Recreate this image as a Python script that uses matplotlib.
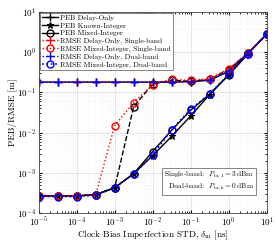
import numpy as np
import matplotlib
matplotlib.use("Agg")
import matplotlib.pyplot as plt

plt.rcParams['font.family'] = 'serif'
plt.rcParams['font.serif'] = ['cmr10', 'DejaVu Serif']
plt.rcParams['mathtext.fontset'] = 'cm'
plt.rcParams['axes.formatter.use_mathtext'] = True

# clock bias STD [ns]
delta = [1e-5, 10**-4.5, 1e-4, 10**-3.5, 1e-3, 10**-2.5, 1e-2, 10**-1.5, 1e-1, 10**-0.5, 1e0, 10**0.5, 1e1]

peb_delay = [0.18, 0.18, 0.18, 0.18, 0.18, 0.18, 0.18, 0.18, 0.185, 0.20, 0.33, 0.92, 2.8]
peb_known = [2.7e-4, 2.7e-4, 2.7e-4, 2.9e-4, 4.3e-4, 9.6e-4, 2.7e-3, 8.1e-3, 0.026, 0.088, 0.27, 0.88, 2.75]
peb_mixed_single = [2.7e-4, 2.7e-4, 2.7e-4, 2.9e-4, 4.3e-4, 0.044, 0.16, 0.20, 0.19, 0.21, 0.37, 0.93, 2.8]
peb_mixed_dual = [2.7e-4, 2.7e-4, 2.7e-4, 2.9e-4, 4.3e-4, 9.6e-4, 3.4e-3, 0.0115, 0.036, 0.09, 0.27, 0.9, 2.8]
rmse_delay_single = [0.18, 0.18, 0.18, 0.18, 0.18, 0.18, 0.18, 0.18, 0.185, 0.21, 0.36, 0.93, 2.8]
rmse_mixed_single = [2.7e-4, 2.7e-4, 2.7e-4, 2.8e-4, 0.0149, 0.056, 0.157, 0.21, 0.20, 0.22, 0.39, 0.94, 2.8]
rmse_delay_dual = [0.18, 0.18, 0.18, 0.18, 0.18, 0.18, 0.18, 0.18, 0.185, 0.20, 0.34, 0.92, 2.8]
rmse_mixed_dual = [2.6e-4, 2.6e-4, 2.6e-4, 2.8e-4, 4.3e-4, 9.4e-4, 2.74e-3, 0.0119, 0.038, 0.093, 0.28, 0.92, 2.8]

fig = plt.figure(figsize=(2.78, 2.41), dpi=100)
ax = fig.add_axes([0.139, 0.115, 0.820, 0.836])

ms = 5
# PEB curves (black)
ax.plot(delta, peb_delay, 'k-+', lw=1.0, ms=ms + 1, mew=1.0, label='PEB Delay-Only')
ax.plot(delta, peb_known, 'k-*', lw=1.0, ms=ms, mew=0.8, label='PEB Known-Integer')
ax.plot(delta, peb_mixed_dual, 'k-o', lw=1.0, ms=ms, mew=1.0, mfc='none', label='PEB Mixed-Integer')
ax.plot(delta, peb_mixed_single, 'k--o', lw=1.0, ms=ms, mew=1.0, mfc='none')
# RMSE curves
ax.plot(delta, rmse_delay_single, color='red', ls=':', marker='+', lw=1.0, ms=ms + 1, mew=1.0,
        label='RMSE Delay-Only, Single-band')
ax.plot(delta, rmse_mixed_single, color='red', ls=':', marker='o', lw=1.0, ms=ms, mew=1.0, mfc='none',
        label='RMSE Mixed-Integer, Single-band')
ax.plot(delta, rmse_delay_dual, color='blue', ls=':', marker='+', lw=1.0, ms=ms + 1, mew=1.0,
        label='RMSE Delay-Only, Dual-band')
ax.plot(delta, rmse_mixed_dual, color='blue', ls=':', marker='o', lw=1.2, ms=ms, mew=1.0, mfc='none',
        label='RMSE Mixed-Integer, Dual-band')

ax.set_xscale('log')
ax.set_yscale('log')
ax.set_xlim(1e-5, 1e1)
ax.set_ylim(1e-4, 1e1)
ax.set_xticks([1e-5, 1e-4, 1e-3, 1e-2, 1e-1, 1e0, 1e1])
ax.set_yticks([1e-4, 1e-3, 1e-2, 1e-1, 1e0, 1e1])

ax.grid(True, which='major', color='#dcdcdc', lw=0.5)
ax.grid(True, which='minor', color='#ececec', lw=0.4, ls=':')
ax.tick_params(which='both', direction='in', top=True, right=True, labelsize=6.5, length=2, pad=1.5)
ax.tick_params(which='minor', length=1.2)
for s in ax.spines.values():
    s.set_linewidth(0.6)
    s.set_color('#444444')

ax.set_xlabel(r'Clock Bias Imperfection STD, $\delta_{\rm m}$ [ns]', fontsize=6.6, labelpad=0)
ax.set_ylabel('PEB/RMSE [m]', fontsize=6.8, labelpad=0)

leg = ax.legend(loc='upper left', fontsize=5.3, frameon=True, fancybox=False, edgecolor='#555555',
                framealpha=1, borderpad=0.25, labelspacing=0.2, handlelength=2.2, handletextpad=0.3,
                borderaxespad=0.15)
leg.get_frame().set_linewidth(0.5)

ax.text(0.945, 0.16, 'Single-band:  $P_{\\rm tx,1}=3\\,$dBm\nDual-band:  $P_{\\rm tx,k}=0\\,$dBm',
        transform=ax.transAxes, ha='right', va='center', multialignment='right', fontsize=5.3,
        bbox=dict(boxstyle='square,pad=0.3', fc='white', ec='#555555', lw=0.5))

fig.savefig('out.png', dpi=100)
